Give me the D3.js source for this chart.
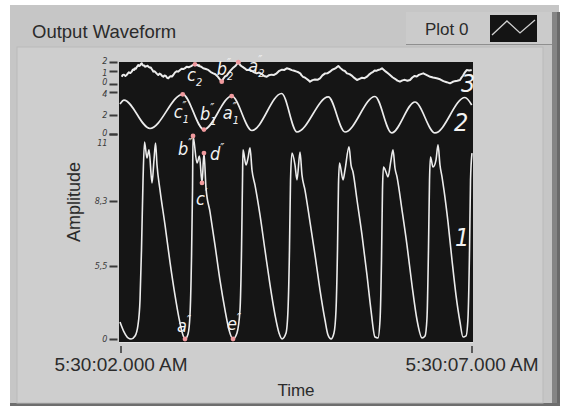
<!DOCTYPE html>
<html>
<head>
<meta charset="utf-8">
<script src="https://cdn.jsdelivr.net/npm/d3@7"></script>
<style>
  html, body { margin: 0; padding: 0; background: #ffffff; }
  svg { display: block; }
  .ui { font-family: "Liberation Sans", Arial, sans-serif; fill: #2b2b2b; }
  .ytick text { font-family: "Liberation Sans Narrow", "DejaVu Sans Condensed", sans-serif; font-style: italic; font-size: 9px; fill: #3a3a3a; }
  .mk { font-family: "Liberation Sans Narrow", "DejaVu Sans Condensed", sans-serif; font-style: italic; font-size: 18px; fill: #f2f2f2; }
  .num { font-family: "Liberation Sans Narrow", "DejaVu Sans Condensed", sans-serif; font-style: italic; font-size: 25px; fill: #f2f2f2; }
</style>
</head>
<body>
<svg id="chart" width="566" height="410"></svg>
<script>
// ---- data: time offsets in seconds from 5:30:02, amplitude values ----
const startTime = new Date(2000, 0, 1, 5, 30, 2);
const endTime = new Date(2000, 0, 1, 5, 30, 7);
const timeTicks = [startTime, endTime];

// Trace 1 (lower band)
const trace1 = [
  [-0.007,1.28],[0.050,0.53],[0.107,0.08],[0.150,0],[0.207,0.23],[0.249,1.05],[0.278,2.94],
  [0.299,6.19],[0.321,9.15],[0.342,10.68],[0.377,10.03],[0.406,10.36],[0.449,9.03],[0.477,9.95],
  [0.499,10.64],[0.520,9.75],[0.563,8.74],[0.634,7.27],[0.705,5.67],[0.776,3.31],[0.833,1.58],
  [0.876,0.53],[0.919,0],[0.962,0.38],[0.990,1.81],[1.011,5.76],[1.026,8.74],[1.033,10.92],
  [1.090,9.83],[1.125,10.11],[1.161,9.03],[1.189,10.23],[1.218,8.82],[1.275,7.83],[1.346,6.40],
  [1.417,4.44],[1.489,2.18],[1.546,0.68],[1.603,0],[1.659,0.45],[1.702,2.18],[1.724,6.19],
  [1.738,9.15],[1.745,10.36],[1.788,9.75],[1.816,10.03],[1.845,10.44],[1.873,9.55],[1.916,8.94],
  [1.987,7.70],[2.058,6.19],[2.130,4.07],[2.201,1.81],[2.258,0.45],[2.301,0],[2.358,0.45],
  [2.386,2.18],[2.407,6.19],[2.422,9.15],[2.443,10.23],[2.486,9.75],[2.514,9.15],[2.557,10.27],
  [2.585,9.35],[2.628,8.74],[2.699,7.40],[2.771,5.97],[2.842,3.69],[2.913,1.43],[2.956,0.30],
  [2.999,0],[3.041,0.45],[3.070,2.18],[3.091,6.19],[3.105,8.94],[3.120,9.83],[3.170,9.15],
  [3.198,9.55],[3.255,10.48],[3.284,9.75],[3.312,9.47],[3.369,8.34],[3.440,6.84],[3.511,4.82],
  [3.568,2.18],[3.625,0.15],[3.668,0.08],[3.697,1.43],[3.718,5.76],[3.732,8.74],[3.746,9.67],
  [3.782,9.47],[3.810,9.27],[3.853,9.95],[3.882,10.36],[3.910,9.63],[3.939,9.27],[4.010,7.91],
  [4.081,6.40],[4.152,4.07],[4.224,1.43],[4.295,0.08],[4.338,0.23],[4.366,1.58],[4.387,6.19],
  [4.402,9.15],[4.416,10.07],[4.452,9.67],[4.494,9.95],[4.523,10.56],[4.551,9.75],[4.580,9.27],
  [4.608,8.74],[4.665,7.40],[4.722,5.76],[4.779,3.31],[4.836,1.28],[4.879,0.15],[4.922,0.23],
  [4.950,1.58],[4.972,6.19],[4.986,9.15],[5.007,10.23]
];

// Trace 2 (middle band)
const trace2 = [
  [-0.007,2.96],[0.050,3.30],[0.420,0.58],[0.886,3.80],[1.189,0.47],[1.584,3.65],[1.873,0.37],
  [2.296,3.87],[2.514,0.21],[2.960,3.57],[3.198,0.21],[3.625,3.61],[3.863,0.11],[4.195,3.13],
  [4.480,0.11],[4.907,3.52],[5.003,2.87]
];

// Trace 3 (upper band, noisy)
const trace3 = [
  [0.017,0.56],[0.033,0.70],[0.05,0.72],[0.07,0.62],[0.088,0.69],[0.105,0.82],[0.12,0.90],[0.14,0.84],
  [0.160,0.95],[0.172,1.10],[0.185,1.18],[0.195,1.12],[0.207,1.30],[0.218,1.25],[0.23,1.42],[0.242,1.55],
  [0.254,1.67],[0.267,1.55],[0.28,1.62],[0.29,1.78],[0.302,1.86],[0.313,1.70],[0.325,1.60],[0.337,1.62],
  [0.349,1.48],[0.367,1.52],[0.385,1.58],[0.40,1.45],[0.420,1.37],[0.432,1.40],[0.445,1.22],[0.456,1.10],
  [0.467,0.95],[0.483,0.98],[0.50,0.90],[0.52,0.78],[0.538,0.69],[0.556,0.80],[0.575,0.74],[0.592,0.62],
  [0.610,0.56],[0.627,0.66],[0.645,0.62],[0.663,0.48],[0.681,0.44],[0.698,0.55],[0.715,0.60],[0.733,0.58],
  [0.752,0.69],[0.776,0.88],[0.80,0.98],[0.824,0.95],[0.848,1.11],[0.871,1.25],[0.895,1.22],[0.919,1.32],
  [0.943,1.48],[0.971,1.42],[1.00,1.52],[1.03,1.66],[1.061,1.74],[1.09,1.68],[1.12,1.55],[1.15,1.48],
  [1.179,1.30],[1.215,1.22],[1.25,1.12],[1.286,0.92],[1.322,0.82],[1.351,0.75],[1.38,0.60],[1.41,0.40],
  [1.442,0.18],[1.466,0.42],[1.49,0.58],[1.513,0.65],[1.536,0.82],[1.573,1.10],[1.61,1.40],[1.644,1.62],
  [1.678,1.97],[1.709,1.62],[1.74,1.45],[1.769,1.30],[1.798,1.11],[1.834,1.15],[1.87,1.02],[1.905,0.90],
  [1.940,0.82],[1.975,0.88],[2.01,0.78],[2.046,0.62],[2.083,0.56],[2.116,0.68],[2.15,0.72],[2.187,0.70],
  [2.225,0.82],[2.262,1.02],[2.30,1.15],[2.334,1.12],[2.368,1.30],[2.404,1.22],[2.44,1.10],[2.475,1.02],
  [2.510,0.95],[2.535,0.90],[2.56,0.82],[2.58,0.66],[2.60,0.55],[2.625,0.50],[2.65,0.40],[2.675,0.30],
  [2.699,0.18],[2.735,0.30],[2.77,0.35],[2.806,0.32],[2.842,0.44],[2.876,0.66],[2.91,0.80],[2.947,0.82],
  [2.984,0.95],[3.012,1.12],[3.04,1.22],[3.072,1.35],[3.103,1.56],[3.134,1.32],[3.165,1.10],[3.196,1.00],
  [3.226,0.82],[3.263,0.76],[3.30,0.62],[3.335,0.45],[3.369,0.31],[3.405,0.40],[3.44,0.48],[3.476,0.45],
  [3.511,0.56],[3.54,0.72],[3.57,0.85],[3.595,0.92],[3.62,1.05],[3.645,1.02],[3.67,1.12],[3.70,1.18],
  [3.725,1.30],[3.752,1.12],[3.78,0.95],[3.81,0.82],[3.839,0.69],[3.875,0.52],[3.91,0.40],[3.945,0.26],
  [3.981,0.18],[4.016,0.28],[4.05,0.32],[4.087,0.25],[4.124,0.31],[4.157,0.50],[4.19,0.62],[4.22,0.58],
  [4.25,0.70],[4.28,0.76],[4.313,0.82],[4.357,0.70],[4.40,0.58],[4.452,0.50],[4.504,0.44],[4.552,0.36],
  [4.60,0.22],[4.647,0.14],[4.694,0.05],[4.727,0.15],[4.76,0.22],[4.798,0.25],[4.836,0.31],[4.858,0.50],
  [4.88,0.65],[4.906,0.90],[4.932,1.11],[4.967,1.06],[5.003,1.11]
];

// Axis tick values and their printed labels
const ticks1 = [0, 5.5, 8.3, 11];
const tickLabels1 = ["0", "5,5", "8,3", "11"];
const ticks2 = [0, 2, 4];
const tickLabels2 = ["0", "2", "4"];
const ticks3 = [0, 1, 2];
const tickLabels3 = ["0", "1", "2"];

// Named cursor points on each trace
const points1 = [
  { name: "b", prime: "\u2033", sub: "", t: 1.033, v: 10.92 },
  { name: "d", prime: "\u2033", sub: "", t: 1.189, v: 10.23 },
  { name: "c", prime: "\u2032", sub: "", t: 1.161, v: 9.03 },
  { name: "a", prime: "\u2033", sub: "", t: 0.919, v: 0 },
  { name: "e", prime: "\u2033", sub: "", t: 1.603, v: 0 }
];
const points2 = [
  { name: "c", prime: "\u2033", sub: "1", t: 0.886, v: 3.80 },
  { name: "b", prime: "\u2033", sub: "1", t: 1.189, v: 0.47 },
  { name: "a", prime: "\u2033", sub: "1", t: 1.584, v: 3.65 }
];
const points3 = [
  { name: "c", prime: "\u2033", sub: "2", t: 1.061, v: 1.74 },
  { name: "b", prime: "\u2033", sub: "2", t: 1.442, v: 0.18 },
  { name: "a", prime: "\u2033", sub: "2", t: 1.678, v: 1.97 }
];

// ---- layout ----
const svg = d3.select("#chart");
const plot = { x0: 119, x1: 473, y0: 62, y1: 342 };
const lineColor = "#ececec";

// label offsets (px) from each cursor point
const labelOffset = {
  "b1": [-15, 19], "d1": [6, 7], "c1": [-6, 22], "a1": [-8, -7], "e1": [-6, -9],
  "c2": [-9, 24], "b2": [-4, -10], "a2": [-9, 23],
  "c3": [-8, 17], "b3": [-5, -7], "a3": [10, 10]
};

// ---- panel frame ----
svg.append("rect").attr("x", 10).attr("y", 5).attr("width", 549).attr("height", 401).attr("fill", "#c6c6c6");
svg.append("rect").attr("x", 552).attr("y", 12).attr("width", 5).attr("height", 394).attr("fill", "#858585");
svg.append("rect").attr("x", 557).attr("y", 12).attr("width", 3).attr("height", 394).attr("fill", "#6a6a6a");
svg.append("rect").attr("x", 10).attr("y", 403).attr("width", 550).attr("height", 3).attr("fill", "#6e6e6e");
svg.append("rect").attr("x", 17).attr("y", 47).attr("width", 526).attr("height", 356)
  .attr("fill", "#cecece").attr("stroke", "#bababa").attr("stroke-width", 1);

// legend box
svg.append("rect").attr("x", 406).attr("y", 12).attr("width", 146).attr("height", 32).attr("fill", "#cbcbcb");
svg.append("line").attr("x1", 406).attr("x2", 552).attr("y1", 44.5).attr("y2", 44.5).attr("stroke", "#8f8f8f");
svg.append("text").attr("class", "ui").attr("x", 425).attr("y", 35).attr("font-size", 17).text("Plot 0");
svg.append("rect").attr("x", 490).attr("y", 15).attr("width", 47).attr("height", 27).attr("fill", "#141414");
const glyph = d3.line()([[492, 35], [507, 21], [520, 33], [535, 20]]);
svg.append("path").attr("d", glyph).attr("fill", "none").attr("stroke", "#d0d0d0").attr("stroke-width", 1.3);

// title
svg.append("text").attr("class", "ui").attr("x", 32).attr("y", 38).attr("font-size", 18.5).text("Output Waveform");

// ---- plot area ----
svg.append("rect").attr("x", plot.x0).attr("y", plot.y0)
  .attr("width", plot.x1 - plot.x0).attr("height", plot.y1 - plot.y0).attr("fill", "#151515");
svg.append("line").attr("x1", plot.x0).attr("x2", plot.x1).attr("y1", plot.y1 + 0.5).attr("y2", plot.y1 + 0.5)
  .attr("stroke", "#e2e2e2");

svg.append("clipPath").attr("id", "plotClip").append("rect")
  .attr("x", plot.x0).attr("y", plot.y0).attr("width", plot.x1 - plot.x0).attr("height", plot.y1 - plot.y0);

// scales
const x = d3.scaleTime().domain([startTime, endTime]).range([120.5, 471.5]);
const at = s => new Date(+startTime + s * 1000);
const y1 = d3.scaleLinear().domain(ticks1).range([339, 266, 201, 134]);
const y2 = d3.scaleLinear().domain(ticks2).range([134, 115, 92]);
const y3 = d3.scaleLinear().domain(ticks3).range([84, 71, 62]);

const traces = svg.append("g").attr("clip-path", "url(#plotClip)");
function drawTrace(data, y, curve, width) {
  const line = d3.line().x(d => x(at(d[0]))).y(d => y(d[1])).curve(curve);
  traces.append("path").datum(data).attr("d", line)
    .attr("fill", "none").attr("stroke", lineColor).attr("stroke-width", width)
    .attr("stroke-linejoin", "round");
}
drawTrace(trace3, y3, d3.curveLinear, 2);
drawTrace(trace2, y2, d3.curveMonotoneX, 1.7);
drawTrace(trace1, y1, d3.curveMonotoneX, 1.6);

// y axes (one per band)
function yAxis(scale, vals, labels, nudge) {
  const g = svg.append("g").attr("class", "ytick").attr("transform", "translate(117.5,0)")
    .call(d3.axisLeft(scale).tickValues(vals).tickSize(8).tickPadding(2)
      .tickFormat((d, i) => labels[i]));
  g.select(".domain").remove();
  g.selectAll(".tick line").attr("stroke", "#3a3a3a").attr("stroke-width", 2);
  g.selectAll(".tick text").attr("dy", (d, i) => nudge[i] || "0.32em");
}
yAxis(y1, ticks1, tickLabels1, [null, null, null, "1.25em"]);
yAxis(y2, ticks2, tickLabels2, ["0.15em", null, "0.45em"]);
yAxis(y3, ticks3, tickLabels3, ["0.1em", "0.5em", "0.15em"]);

// time axis
const xa = svg.append("g").attr("transform", "translate(0,346)")
  .call(d3.axisBottom(x).tickValues(timeTicks).tickSize(7).tickPadding(5)
    .tickFormat(d3.timeFormat("%-I:%M:%S.%L %p")));
xa.select(".domain").remove();
xa.selectAll(".tick line").attr("stroke", "#333").attr("stroke-width", 1.5);
xa.selectAll(".tick text").attr("font-family", "Liberation Sans, Arial, sans-serif")
  .attr("font-size", 19).attr("fill", "#2b2b2b");

svg.append("text").attr("class", "ui").attr("x", 296).attr("y", 396).attr("text-anchor", "middle")
  .attr("font-size", 17).text("Time");
svg.append("text").attr("class", "ui").attr("transform", "translate(80,202) rotate(-90)")
  .attr("text-anchor", "middle").attr("font-size", 18).text("Amplitude");

// cursor points and their names
function drawPoints(points, y, band) {
  points.forEach(p => {
    const px = x(at(p.t)), py = y(p.v);
    svg.append("circle").attr("cx", px).attr("cy", py).attr("r", 2.4).attr("fill", "#f09a9e");
    const off = labelOffset[p.name + band];
    const t = svg.append("text").attr("class", "mk").attr("x", px + off[0]).attr("y", py + off[1]);
    t.append("tspan").text(p.name);
    t.append("tspan").attr("dy", -8).attr("font-size", 12).text(p.prime);
    if (p.sub) t.append("tspan").attr("dx", -4).attr("dy", 13).attr("font-size", 11).text(p.sub);
  });
}
drawPoints(points1, y1, "1");
drawPoints(points2, y2, "2");
drawPoints(points3, y3, "3");

// trace numbers
svg.append("text").attr("class", "num").attr("x", 461).attr("y", 92).text("3");
svg.append("text").attr("class", "num").attr("x", 454).attr("y", 131).text("2");
svg.append("text").attr("class", "num").attr("x", 455).attr("y", 246).text("1");
</script>
</body>
</html>
